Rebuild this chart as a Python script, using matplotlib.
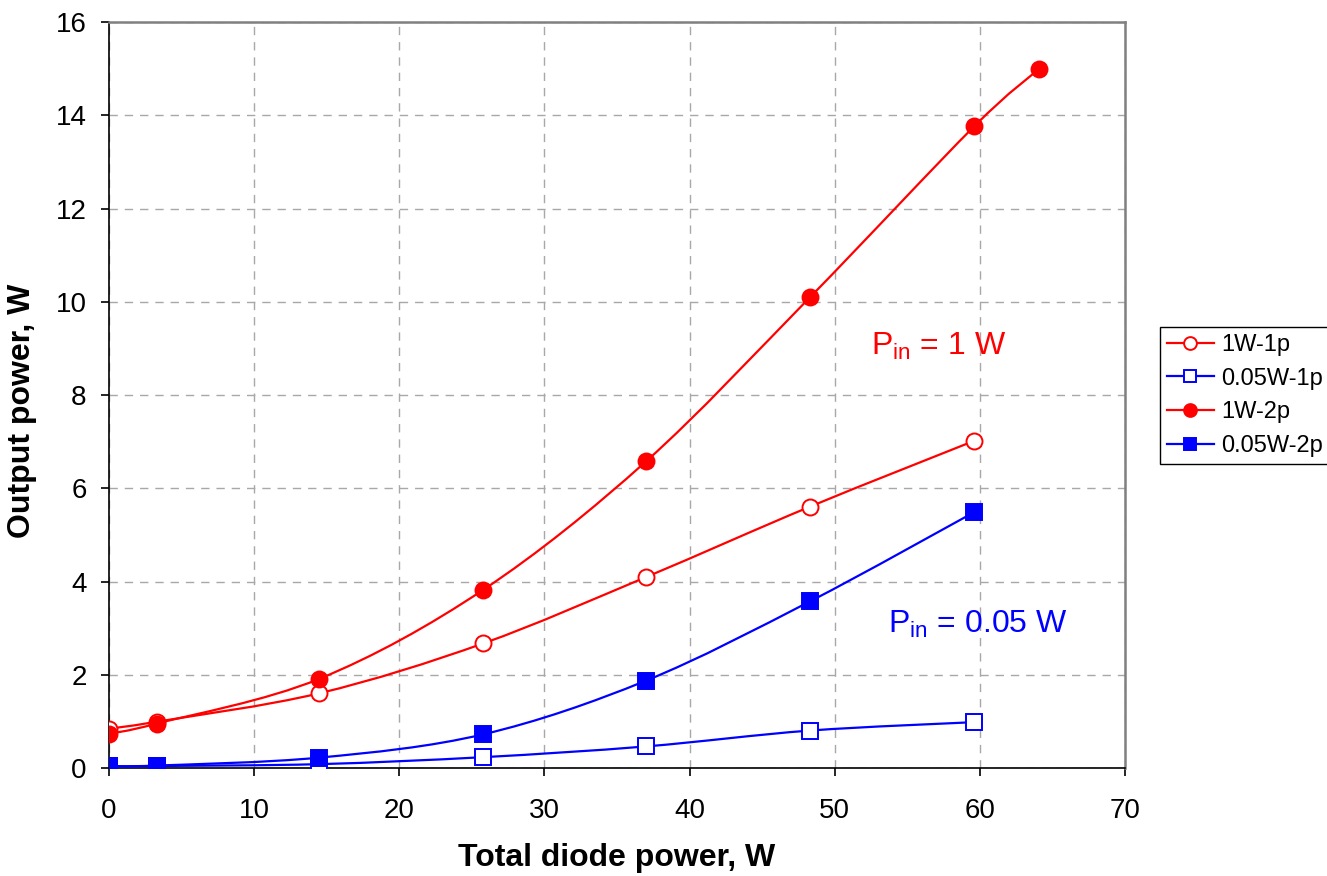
import numpy as np
import matplotlib
matplotlib.use('Agg')
import matplotlib.pyplot as plt
from matplotlib.path import Path
from matplotlib.patches import PathPatch
from matplotlib.lines import Line2D

plt.rcParams['font.family'] = ['Liberation Sans', 'DejaVu Sans']

# diode power, W
x = [0, 3.3, 14.5, 25.8, 37.0, 48.3, 59.6]
x_long = [0, 3.3, 14.5, 25.8, 37.0, 48.3, 59.6, 64.1]

# output power, W
p_1w_1p = [0.85, 1.0, 1.61, 2.68, 4.1, 5.61, 7.02]
p_005w_1p = [0.04, 0.05, 0.09, 0.24, 0.47, 0.81, 0.99]
p_1w_2p = [0.74, 0.96, 1.92, 3.83, 6.58, 10.1, 13.76, 15.0]
p_005w_2p = [0.05, 0.06, 0.23, 0.73, 1.88, 3.58, 5.49]

x_ticks = [0, 10, 20, 30, 40, 50, 60, 70]
y_ticks = [0, 2, 4, 6, 8, 10, 12, 14, 16]


def smooth_path(xs, ys):
    # bezier path through the points, like a spreadsheet "smoothed line"
    p = np.column_stack([xs, ys]).astype(float)
    n = len(p)
    verts = [p[0]]
    codes = [Path.MOVETO]
    for i in range(n - 1):
        p0 = p[i - 1] if i > 0 else p[i]
        p1 = p[i]
        p2 = p[i + 1]
        p3 = p[i + 2] if i + 2 < n else p[i + 1]
        c1 = p1 + (p2 - p0) / 6.0
        c2 = p2 - (p3 - p1) / 6.0
        verts += [c1, c2, p2]
        codes += [Path.CURVE4] * 3
    return Path(verts, codes)


fig = plt.figure(figsize=(13.27, 8.76), dpi=100)
ax = fig.add_axes([0.0821, 0.1229, 0.7657, 0.852])

series = [
    (x, p_1w_1p, 'red', 'o', 'white', '1W-1p'),
    (x, p_005w_1p, 'blue', 's', 'white', '0.05W-1p'),
    (x_long, p_1w_2p, 'red', 'o', 'red', '1W-2p'),
    (x, p_005w_2p, 'blue', 's', 'blue', '0.05W-2p'),
]

handles = []
for xs, ys, col, mk, fc, lab in series:
    ax.add_patch(PathPatch(smooth_path(xs, ys), facecolor='none',
                           edgecolor=col, lw=1.6, zorder=3))
    ms = 11.5 if mk == 'o' else 11
    ax.plot(xs, ys, ls='none', marker=mk, ms=ms, mfc=fc, mec=col,
            mew=1.4, zorder=4)
    handles.append(Line2D([], [], color=col, lw=1.6, marker=mk, ms=ms,
                          mfc=fc, mec=col, mew=1.4, label=lab))

ax.set_xlim(0, 70)
ax.set_ylim(0, 16)
ax.set_xticks(x_ticks)
ax.set_yticks(y_ticks)
ax.grid(True, color='#a8a8a8', ls=(0, (6, 5)), lw=1.0)
ax.set_axisbelow(True)

for s in ['left', 'bottom']:
    ax.spines[s].set_color('black')
    ax.spines[s].set_linewidth(1.2)
for s in ['top', 'right']:
    ax.spines[s].set_color('#808080')
    ax.spines[s].set_linewidth(1.8)

ax.tick_params(axis='both', direction='out', length=6, width=1.2,
               labelsize=20, color='black')
ax.tick_params(axis='x', pad=15)
ax.tick_params(axis='y', pad=10)

ax.set_xlabel('Total diode power, W', fontsize=23, fontweight='bold',
              labelpad=14)
ax.set_ylabel('Output power, W', fontsize=23, fontweight='bold')
ax.yaxis.set_label_coords(-0.071, 0.479)

ax.text(52.5, 8.87, r'P$_{\mathregular{in}}$ = 1 W', color='red',
        fontsize=23)
ax.text(53.7, 2.91, r'P$_{\mathregular{in}}$ = 0.05 W', color='blue',
        fontsize=23)

leg = fig.legend(handles=handles, loc='upper left',
                 bbox_to_anchor=(0.874, 0.627), fontsize=17,
                 fancybox=False, framealpha=1, edgecolor='black',
                 handlelength=2.0, handletextpad=0.3, borderpad=0.3,
                 labelspacing=0.5, borderaxespad=0, markerscale=0.8)
leg.get_frame().set_linewidth(1.0)

fig.savefig('out.png', dpi=100)
